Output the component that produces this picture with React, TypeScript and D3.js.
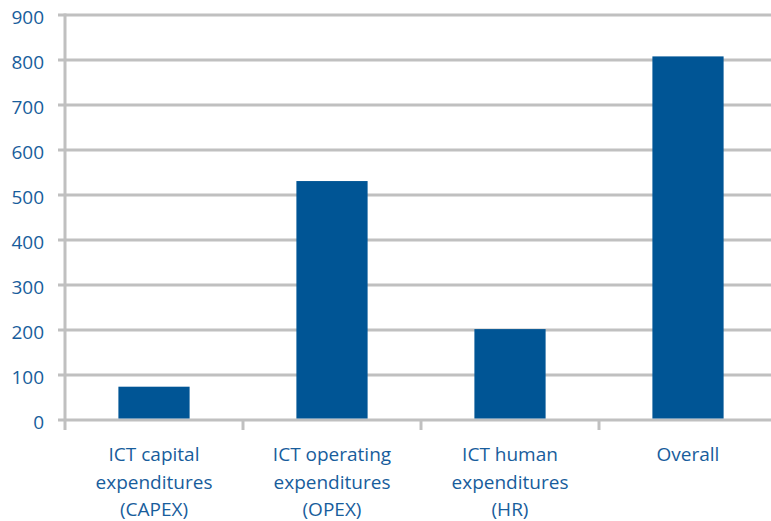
import React from "react";
import * as d3 from "d3";

const categories: string[][] = [
  ["ICT capital", "expenditures", "(CAPEX)"],
  ["ICT operating", "expenditures", "(OPEX)"],
  ["ICT human", "expenditures", "(HR)"],
  ["Overall"],
];
const values: number[] = [74, 531, 202, 808];
const yTicks: number[] = [0, 100, 200, 300, 400, 500, 600, 700, 800, 900];

const W = 771;
const H = 521;
const left = 65;
const right = 777;
const top = 15;
const bottom = 420;
const gridColor = "#c0c0c0";
const barColor = "#005595";
const textColor = "#185d9c";
const font = "'Open Sans', 'Noto Sans', sans-serif";

export default function App() {
  const keys = categories.map((_, i) => String(i));
  const x = d3.scaleBand<string>().domain(keys).range([left, right]).paddingInner(0.6).paddingOuter(0.3);
  const xb = d3.scaleBand<string>().domain(keys).range([left, right]);
  const y = d3.scaleLinear().domain([0, 900]).range([bottom, top]);

  return (
    <svg width={W} height={H} style={{ position: "absolute", left: 0, top: 0, display: "block" }}>
      <rect x={0} y={0} width={W} height={H} fill="#fff" />
      {yTicks.map((t) => (
        <g key={t}>
          <line x1={58} x2={W} y1={y(t)} y2={y(t)} stroke={gridColor} strokeWidth={3} />
          <text
            x={44}
            y={y(t) + 2}
            textAnchor="end"
            dominantBaseline="central"
            fill={textColor}
            fontFamily={font}
            fontSize={19}
          >
            {t}
          </text>
        </g>
      ))}
      <line x1={left} x2={left} y1={top - 1.5} y2={430} stroke={gridColor} strokeWidth={3} />
      {keys.map((k, i) => {
        const xx = left + xb.bandwidth() * (i + 1);
        return <line key={k} x1={xx} x2={xx} y1={bottom} y2={430} stroke={gridColor} strokeWidth={3} />;
      })}
      {values.map((v, i) => (
        <rect
          key={i}
          x={x(String(i))!}
          y={y(v)}
          width={x.bandwidth()}
          height={bottom - 1.5 - y(v)}
          fill={barColor}
        />
      ))}
      {categories.map((lines, i) => {
        const cx = xb(String(i))! + xb.bandwidth() / 2;
        return (
          <text
            key={i}
            textAnchor="middle"
            fill={textColor}
            fontFamily={font}
            fontSize={19}
          >
            {lines.map((l, j) => (
              <tspan key={j} x={cx} y={454 + j * 27.5} dominantBaseline="central">
                {l}
              </tspan>
            ))}
          </text>
        );
      })}
    </svg>
  );
}
